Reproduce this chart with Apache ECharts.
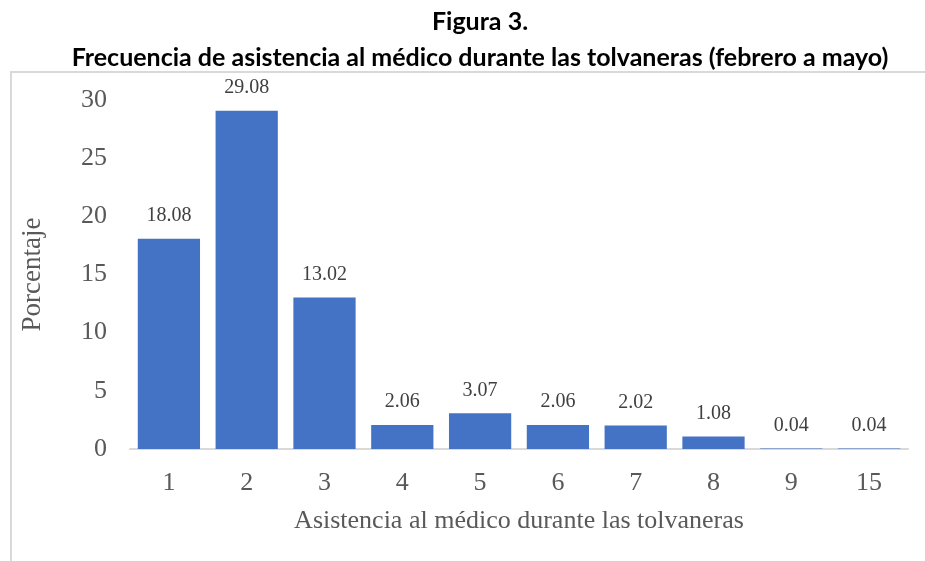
<!DOCTYPE html>
<html>
<head>
<meta charset="utf-8">
<script src="https://cdn.jsdelivr.net/npm/echarts@6/dist/echarts.min.js"></script>
<style>
  html, body { margin: 0; padding: 0; background: #fff; }
  #chart { width: 925px; height: 561px; }
</style>
</head>
<body>
<div id="chart"></div>
<script>
let categories = ['1', '2', '3', '4', '5', '6', '7', '8', '9', '15'];
let percentages = [18.08, 29.08, 13.02, 2.06, 3.07, 2.06, 2.02, 1.08, 0.04, 0.04];
let yTicks = [0, 5, 10, 15, 20, 25, 30];

let chart = echarts.init(document.getElementById('chart'));
let serif = '"Liberation Serif", "Times New Roman", serif';

let option = {
    backgroundColor: '#fff',
    animation: false,
    title: [
        {
            text: 'Figura 3.',
            left: 475,
            top: 4,
            textAlign: 'center',
            textStyle: {fontFamily: 'Lato', fontWeight: 'bold', fontSize: 25, color: '#000'}
        },
        {
            text: 'Frecuencia de asistencia al médico durante las tolvaneras (febrero a mayo)',
            left: 475,
            top: 40,
            textAlign: 'center',
            textStyle: {fontFamily: 'Lato', fontWeight: 'bold', fontSize: 25, color: '#000'}
        }
    ],
    graphic: [
        {
            type: 'polyline',
            shape: {points: [[11, 561], [11, 72], [925, 72]]},
            style: {stroke: '#d9d9d9', lineWidth: 2, fill: null}
        }
    ],
    grid: {
        left: 130,
        right: 17,
        top: 100,
        bottom: 112
    },
    xAxis: {
        type: 'category',
        data: categories,
        name: 'Asistencia al médico durante las tolvaneras',
        nameLocation: 'middle',
        nameGap: 59,
        nameTextStyle: {fontFamily: serif, fontSize: 26, color: '#595959'},
        axisLine: {lineStyle: {color: '#d9d9d9', width: 2}},
        axisTick: {show: false},
        axisLabel: {fontFamily: serif, fontSize: 26, color: '#595959', margin: 21}
    },
    yAxis: {
        type: 'value',
        min: yTicks[0],
        max: yTicks[yTicks.length - 1],
        interval: yTicks[1] - yTicks[0],
        name: 'Porcentaje',
        nameLocation: 'middle',
        nameGap: 84,
        nameTextStyle: {fontFamily: serif, fontSize: 27, color: '#595959'},
        axisLine: {show: false},
        axisTick: {show: false},
        splitLine: {show: false},
        axisLabel: {fontFamily: serif, fontSize: 26, color: '#595959', margin: 23}
    },
    series: [
        {
            type: 'bar',
            data: percentages,
            barCategoryGap: '20%',
            itemStyle: {color: '#4472c4'},
            label: {
                show: true,
                position: 'top',
                distance: 13,
                fontFamily: serif,
                fontSize: 20,
                color: '#404040',
                formatter: function (p) {
                    return p.value.toFixed(2);
                }
            }
        }
    ]
};
chart.setOption(option);
</script>
</body>
</html>
